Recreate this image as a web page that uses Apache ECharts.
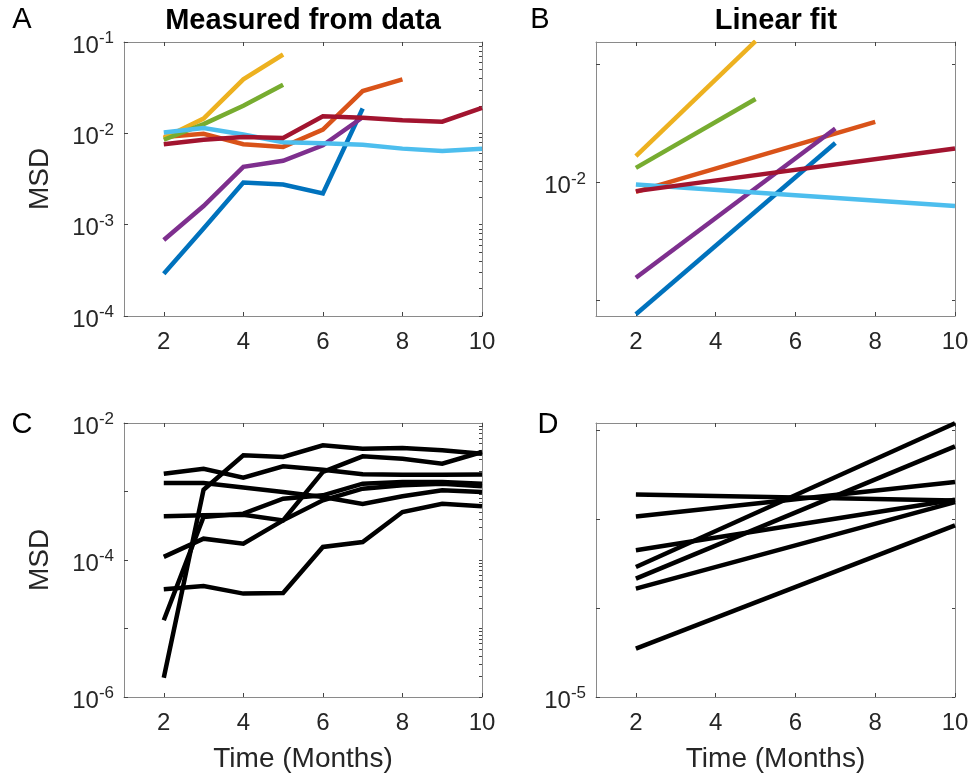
<!DOCTYPE html>
<html>
<head>
<meta charset="utf-8">
<script src="https://cdn.jsdelivr.net/npm/echarts@6/dist/echarts.min.js"></script>
<style>
html,body{margin:0;padding:0;background:#fff;}
#chart{width:972px;height:777px;}
</style>
</head>
<body>
<div id="chart"></div>
<script>
// ---------------- DATA ----------------
const xTickLabels = [2, 4, 6, 8, 10];

// Panel A: measured MSD per month (months start at 2)
const monthsA = [2, 3, 4, 5, 6, 7, 8, 9, 10];
const msdA_blue    = [2.9e-4, 9.1e-4, 2.9e-3, 2.75e-3, 2.2e-3, 0.0187];
const msdA_orange  = [0.0091, 0.0099, 0.0076, 0.0071, 0.011, 0.029, 0.039];
const msdA_yellow  = [0.0089, 0.0145, 0.039, 0.073];
const msdA_purple  = [6.8e-4, 1.6e-3, 4.3e-3, 5.0e-3, 7.4e-3, 0.015];
const msdA_green   = [0.0085, 0.0126, 0.020, 0.034];
const msdA_cyan    = [0.0102, 0.0114, 0.0097, 0.0080, 0.0078, 0.0075, 0.0068, 0.0064, 0.0068];
const msdA_darkred = [0.0076, 0.0085, 0.0091, 0.0089, 0.0154, 0.0148, 0.0139, 0.0134, 0.019];

// Panel B: linear fits (start month, end month) and MSD at those months
const fitB_blue_x    = [2, 7];  const fitB_blue    = [0.000767, 0.0216];
const fitB_orange_x  = [2, 8];  const fitB_orange  = [0.00834, 0.0326];
const fitB_yellow_x  = [2, 5];  const fitB_yellow  = [0.0167, 0.157];
const fitB_purple_x  = [2, 7];  const fitB_purple  = [0.00156, 0.0286];
const fitB_green_x   = [2, 5];  const fitB_green   = [0.0133, 0.0509];
const fitB_cyan_x    = [2, 10]; const fitB_cyan    = [0.00962, 0.00631];
const fitB_darkred_x = [2, 10]; const fitB_darkred = [0.00845, 0.0194];

// Panel C: measured MSD, 7 curves, months 2..10
const monthsC = [2, 3, 4, 5, 6, 7, 8, 9, 10];
const msdC_1 = [1.91e-6, 1.06e-3, 3.37e-3, 3.19e-3, 4.72e-3, 4.22e-3, 4.32e-3, 3.99e-3, 3.56e-3];
const msdC_2 = [1.82e-3, 2.15e-3, 1.59e-3, 2.33e-3, 2.08e-3, 1.78e-3, 1.76e-3, 1.75e-3, 1.77e-3];
const msdC_3 = [1.33e-3, 1.33e-3, 1.14e-3, 9.8e-4, 8.3e-4, 6.6e-4, 8.5e-4, 1.04e-3, 9.8e-4];
const msdC_4 = [4.34e-4, 4.49e-4, 4.59e-4, 3.79e-4, 1.93e-3, 3.26e-3, 3.01e-3, 2.55e-3, 3.77e-3];
const msdC_5 = [1.11e-4, 2.05e-4, 1.73e-4, 3.79e-4, 7.43e-4, 1.10e-3, 1.23e-3, 1.30e-3, 1.19e-3];
const msdC_6 = [3.73e-5, 4.17e-5, 3.23e-5, 3.30e-5, 1.55e-4, 1.83e-4, 5.02e-4, 6.64e-4, 6.07e-4];
const msdC_7 = [1.32e-5, 4.25e-4, 4.75e-4, 7.85e-4, 8.79e-4, 1.30e-3, 1.38e-3, 1.38e-3, 1.30e-3];

// Panel D: linear fits, months 2 and 10
const fitD_x = [2, 10];
const fitD_1 = [1.88e-3, 1.62e-3];
const fitD_2 = [1.07e-3, 2.61e-3];
const fitD_3 = [4.45e-4, 1.65e-3];
const fitD_4 = [2.89e-4, 1.19e-2];
const fitD_5 = [2.14e-4, 6.55e-3];
const fitD_6 = [1.65e-4, 1.55e-3];
const fitD_7 = [3.49e-5, 8.49e-4];

// y tick label exponents per panel (log10 values)
const yLabelsA = [-4, -3, -2, -1];
const yLabelsB = [-2];
const yLabelsC = [-6, -4, -2];
const yLabelsD = [-5];

// ---------------- STYLE ----------------
const FONT = '"Liberation Sans", Arial, Helvetica, sans-serif';
const TXT = '#262626';
const FRAME = '#8a8a8a';
const C = {
  blue: '#0072BD', orange: '#D95319', yellow: '#EDB120', purple: '#7E2F8E',
  green: '#77AC30', cyan: '#4DBEEE', darkred: '#A2142F'
};

function pairs(xs, vs) { return vs.map((v, i) => [xs[i], Math.log10(v)]); }
function minorTicks(lo, hi) {
  const out = [];
  for (let d = Math.floor(lo); d < Math.ceil(hi); d++) {
    for (let k = 1; k <= 9; k++) {
      const v = d + Math.log10(k);
      if (v >= lo - 1e-9 && v <= hi + 1e-9) out.push(v);
    }
  }
  return out;
}

const grids = [
  { left: 124, top: 42, width: 358, height: 274 },
  { left: 596, top: 42, width: 359, height: 274 },
  { left: 124, top: 423, width: 358, height: 274 },
  { left: 596, top: 423, width: 359, height: 274 }
];

const yRanges = [[-4, -1], [-3.13, -0.811], [-6, -2], [-5, -1.921]];
const yLabels = [yLabelsA, yLabelsB, yLabelsC, yLabelsD];
const yMajor = [[-4, -3, -2, -1], [-3, -2, -1], [-6, -5, -4, -3, -2], [-5, -4, -3, -2]];
const yRightTicks = [minorTicks(-4, -1), [-3, -2, -1], minorTicks(-6, -2), [-5, -4, -3, -2]];

const xAxes = [], yAxes = [];
for (let g = 0; g < 4; g++) {
  const bottomRow = g >= 2;
  xAxes.push({
    type: 'value', gridIndex: g, min: 1, max: 10, position: 'bottom',
    axisLine: { show: true, onZero: false, lineStyle: { color: FRAME, width: 1 } },
    axisTick: { show: true, inside: true, length: 4, customValues: xTickLabels, lineStyle: { color: '#444' } },
    axisLabel: { show: true, customValues: xTickLabels, margin: 14, fontSize: 24, color: TXT, fontFamily: FONT },
    splitLine: { show: false },
    name: bottomRow ? 'Time (Months)' : '',
    nameLocation: 'middle', nameGap: 48,
    nameTextStyle: { fontSize: 28, color: TXT, fontFamily: FONT }
  });
  xAxes.push({
    type: 'value', gridIndex: g, min: 1, max: 10, position: 'top',
    axisLine: { show: true, onZero: false, lineStyle: { color: FRAME, width: 1 } },
    axisTick: { show: true, inside: true, length: 4, customValues: xTickLabels, lineStyle: { color: '#444' } },
    axisLabel: { show: false },
    splitLine: { show: false }
  });
  const leftCol = (g % 2) === 0;
  yAxes.push({
    type: 'value', gridIndex: g, min: yRanges[g][0], max: yRanges[g][1], position: 'left',
    axisLine: { show: true, onZero: false, lineStyle: { color: FRAME, width: 1 } },
    axisTick: { show: true, inside: true, length: 4, customValues: yMajor[g], lineStyle: { color: '#444' } },
    axisLabel: {
      show: true, customValues: yLabels[g], margin: 10,
      formatter: v => '{b|10}{s|' + Math.round(v) + '}',
      rich: {
        b: { fontSize: 24, color: TXT, fontFamily: FONT, padding: [8, 0, 0, 0] },
        s: { fontSize: 17, color: TXT, fontFamily: FONT, padding: [0, 0, 7, 0] }
      }
    },
    splitLine: { show: false },
    name: leftCol ? 'MSD' : '',
    nameLocation: 'middle', nameRotate: 90, nameGap: 70,
    nameTextStyle: { fontSize: 28, color: TXT, fontFamily: FONT }
  });
  yAxes.push({
    type: 'value', gridIndex: g, min: yRanges[g][0], max: yRanges[g][1], position: 'right',
    axisLine: { show: true, onZero: false, lineStyle: { color: FRAME, width: 1 } },
    axisTick: { show: true, inside: true, length: 3, customValues: yRightTicks[g], lineStyle: { color: '#444' } },
    axisLabel: { show: false },
    splitLine: { show: false }
  });
}

function line(g, data, color) {
  return {
    type: 'line', xAxisIndex: g * 2, yAxisIndex: g * 2, data: data,
    showSymbol: false, symbol: 'none', silent: true, animation: false,
    lineStyle: { color: color, width: 4.5, cap: 'butt', join: 'miter' },
    clip: true
  };
}

const series = [
  line(0, pairs(monthsA, msdA_blue), C.blue),
  line(0, pairs(monthsA, msdA_orange), C.orange),
  line(0, pairs(monthsA, msdA_yellow), C.yellow),
  line(0, pairs(monthsA, msdA_purple), C.purple),
  line(0, pairs(monthsA, msdA_green), C.green),
  line(0, pairs(monthsA, msdA_cyan), C.cyan),
  line(0, pairs(monthsA, msdA_darkred), C.darkred),

  line(1, pairs(fitB_blue_x, fitB_blue), C.blue),
  line(1, pairs(fitB_orange_x, fitB_orange), C.orange),
  line(1, pairs(fitB_yellow_x, fitB_yellow), C.yellow),
  line(1, pairs(fitB_purple_x, fitB_purple), C.purple),
  line(1, pairs(fitB_green_x, fitB_green), C.green),
  line(1, pairs(fitB_cyan_x, fitB_cyan), C.cyan),
  line(1, pairs(fitB_darkred_x, fitB_darkred), C.darkred),

  line(2, pairs(monthsC, msdC_1), '#000'),
  line(2, pairs(monthsC, msdC_2), '#000'),
  line(2, pairs(monthsC, msdC_3), '#000'),
  line(2, pairs(monthsC, msdC_4), '#000'),
  line(2, pairs(monthsC, msdC_5), '#000'),
  line(2, pairs(monthsC, msdC_6), '#000'),
  line(2, pairs(monthsC, msdC_7), '#000'),

  line(3, pairs(fitD_x, fitD_1), '#000'),
  line(3, pairs(fitD_x, fitD_2), '#000'),
  line(3, pairs(fitD_x, fitD_3), '#000'),
  line(3, pairs(fitD_x, fitD_4), '#000'),
  line(3, pairs(fitD_x, fitD_5), '#000'),
  line(3, pairs(fitD_x, fitD_6), '#000'),
  line(3, pairs(fitD_x, fitD_7), '#000')
];

function label(text, x, y, size, weight) {
  return {
    type: 'text', x: x, y: y, silent: true,
    style: {
      text: text, fill: '#000', font: (weight || 'normal') + ' ' + size + 'px ' + FONT,
      textAlign: 'center', textVerticalAlign: 'middle', align: 'center', verticalAlign: 'middle'
    }
  };
}

const chart = echarts.init(document.getElementById('chart'), null, { renderer: 'canvas' });
chart.setOption({
  animation: false,
  backgroundColor: '#ffffff',
  grid: grids,
  xAxis: xAxes,
  yAxis: yAxes,
  series: series,
  graphic: [
    label('A', 22, 20, 29),
    label('B', 540, 20, 29),
    label('C', 22, 425, 29),
    label('D', 548, 425, 29),
    label('Measured from data', 303, 21, 29, 'bold'),
    label('Linear fit', 776, 21, 29, 'bold')
  ]
});
</script>
</body>
</html>
